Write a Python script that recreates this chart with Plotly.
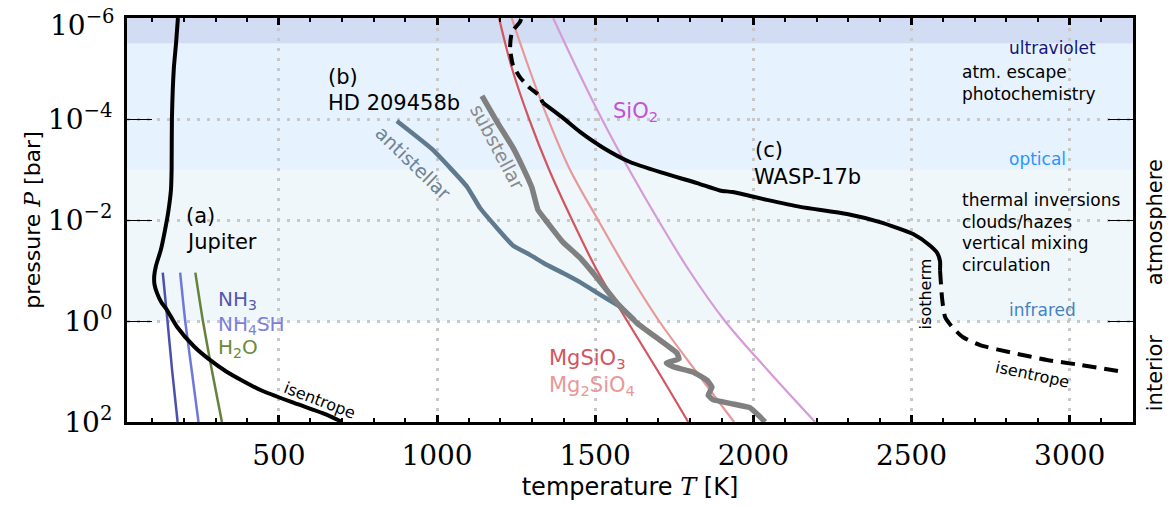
import numpy as np
import plotly.graph_objects as go

# ---------------------------------------------------------------------------
# Temperature–pressure profiles (T in K, P in bar)
# ---------------------------------------------------------------------------
jupiter_T = [181, 175, 168, 162, 161, 159, 150, 140, 127, 112, 106, 107, 115,
             128, 146, 178, 232, 282, 336, 440, 548, 652, 700]
jupiter_P = [1e-6, 3.2e-6, 1e-5, 1e-4, 1e-3, 2.5e-3, 7.2e-3, 0.016, 0.039,
             0.079, 0.13, 0.19, 0.28, 0.42, 0.6, 1.3, 3.2, 5.9, 10.2, 23,
             42, 72, 100]

# Jupiter cloud condensation curves
nh3_T = [133, 148, 163, 180]
nh4sh_T = [188, 204, 225, 246]
h2o_T = [236, 260, 289, 320]
jov_cond_P = [0.11, 1.0, 10.0, 100.0]

# HD 209458b (antistellar / substellar)
anti_T = [873, 987, 1095, 1136, 1190, 1240, 1294, 1348, 1398, 1452, 1515,
          1578, 1625]
anti_P = [1.1e-4, 4.1e-4, 2.2e-3, 5.8e-3, 0.0145, 0.032, 0.049, 0.078,
          0.112, 0.17, 0.3, 0.52, 0.95]

sub_T = [1142, 1190, 1240, 1272, 1300, 1319, 1348, 1398, 1452, 1506, 1569,
         1632, 1705, 1758, 1765, 1725, 1748, 1809, 1853, 1869, 1857, 1872,
         1936, 1989, 2021, 2037]
sub_P = [3.5e-5, 1.15e-4, 3.7e-4, 9.3e-4, 2.3e-3, 6.3e-3, 0.011, 0.0275,
         0.056, 0.14, 0.44, 1.1, 2.4, 4.3, 5.6, 6.8, 8.1, 10.2, 14.8, 20.4,
         29.5, 36, 44, 52, 79, 100]

# Silicate condensation curves, read once per decade of pressure
silicate_P = [1e-6, 1e-5, 1e-4, 1e-3, 1e-2, 0.1, 1.0, 10.0, 100.0]
mgsio3_T = [1196, 1237, 1291, 1354, 1427, 1506, 1601, 1699, 1794]
mg2sio4_T = [1236, 1291, 1351, 1420, 1509, 1601, 1702, 1819, 1939]
sio2_T = [1367, 1442, 1521, 1607, 1699, 1797, 1910, 2049, 2195]

# WASP-17b: extrapolated top, computed middle, isotherm + isentrope below
wasp_top_T = [1266, 1262, 1237, 1231, 1240, 1262, 1294, 1320, 1335]
wasp_top_P = [1.05e-6, 1.2e-6, 1.9e-6, 3.9e-6, 8.5e-6, 1.48e-5, 2.45e-5,
              3.3e-5, 4.8e-5]
wasp_mid_T = [1335, 1398, 1452, 1525, 1610, 1714, 1822, 1894, 1935, 2043,
              2148, 2296, 2400, 2505, 2558, 2581, 2590, 2590]
wasp_mid_P = [4.8e-5, 9.5e-5, 1.8e-4, 3.7e-4, 7.1e-4, 1.17e-3, 1.86e-3,
              2.6e-3, 2.8e-3, 4e-3, 5.5e-3, 7.6e-3, 0.011, 0.019, 0.032,
              0.045, 0.065, 0.098]
wasp_deep_T = [2590, 2597, 2606, 2628, 2663, 2717, 2821, 2928, 3033, 3169]
wasp_deep_P = [0.098, 0.38, 0.83, 1.3, 2.1, 3.0, 4.3, 5.9, 7.4, 10.2]

# Axis ticks (the top label is placed separately so it stays on the page)
x_ticks = [500, 1000, 1500, 2000, 2500, 3000]
y_ticks = [1e-6, 1e-4, 1e-2, 1e0, 1e2]
y_top_label = "10<sup>\u22126</sup>"
y_tick_text = ["", "10<sup>\u22124</sup>",
               "10<sup>\u22122</sup>", "10<sup>0</sup>", "10<sup>2</sup>"]

SANS = "DejaVu Sans"
SERIF = "DejaVu Serif"

fig = go.Figure()


def curve(T, P, color, width, dash="solid", shape="spline", smoothing=0.6):
    fig.add_trace(go.Scatter(
        x=T, y=P, mode="lines",
        line=dict(color=color, width=width, dash=dash, shape=shape,
                  smoothing=smoothing),
        hoverinfo="skip"))


# condensation curves
curve(mgsio3_T, silicate_P, "#d2555f", 2.2, smoothing=1.0)
curve(mg2sio4_T, silicate_P, "#e89898", 2.2, smoothing=1.0)
curve(sio2_T, silicate_P, "#d69ad8", 2.2, smoothing=1.0)
curve(nh3_T, jov_cond_P, "#4b50aa", 2.5)
curve(nh4sh_T, jov_cond_P, "#6e78dc", 2.5)
curve(h2o_T, jov_cond_P, "#64823c", 2.5)

# HD 209458b
curve(anti_T, anti_P, "#5f7a8e", 4.5, smoothing=0.4)
curve(sub_T, sub_P, "#808080", 5.5, smoothing=0.3)

# Jupiter
curve(jupiter_T, jupiter_P, "black", 4)

# WASP-17b
curve(wasp_top_T, wasp_top_P, "black", 4, dash="12px,7px")
curve(wasp_mid_T, wasp_mid_P, "black", 4)
curve(wasp_deep_T, wasp_deep_P, "black", 4, dash="14px,8px")

# spectral bands (paper coords: 1e2 bar -> 0, 1e-6 bar -> 1)
bands = [(0.25, "#eff7fa"), (0.625, "#e6f2fe"), (0.9375, "#d2dcf2")]
for y0, col in bands:
    fig.add_shape(type="rect", xref="paper", yref="paper", x0=0, x1=1,
                  y0=y0, y1=1, fillcolor=col, line_width=0, layer="below")


def note(text, T, logp, size=22, color="black", anchor="left", angle=0,
         family=SANS):
    fig.add_annotation(x=T, y=logp, xref="x", yref="y", text=text,
                       showarrow=False, xanchor=anchor, yanchor="middle",
                       textangle=angle,
                       font=dict(family=family, size=size, color=color))


# planet labels
note("(a)", 200, -2.08, size=21)
note("Jupiter", 200, -1.56, size=21)
note("(b)", 648, -4.83, size=21)
note("HD 209458b", 648, -4.32, size=21)
note("(c)", 1998, -3.39, size=21)
note("WASP-17b", 1995, -2.85, size=21)

# species labels
note("NH<sub>3</sub>", 300, -0.42, size=20, color="#5558b0")
note("NH<sub>4</sub>SH", 300, 0.07, size=20, color="#7a80e0")
note("H<sub>2</sub>O", 300, 0.54, size=20, color="#6b8a3a")
note("SiO<sub>2</sub>", 1550, -4.14, size=21, color="#c850d2")
note("MgSiO<sub>3</sub>", 1348, 0.75, size=21, color="#d2555f")
note("Mg<sub>2</sub>SiO<sub>4</sub>", 1348, 1.29, size=21, color="#e89898")

# profile annotations along the curves
note("antistellar", 925, -3.12, size=19, color="#6f8494", anchor="center", angle=44)
note("substellar", 1192, -3.45, size=19, color="#8a8a8a", anchor="center", angle=62)
note("isentrope", 630, 1.58, size=16, anchor="center", angle=21)
note("isentrope", 2881, 1.05, size=16, anchor="center", angle=12)
note("isotherm", 2543, -0.53, size=16, anchor="center", angle=-90)

# atmospheric regimes
note("ultraviolet", 2802, -5.41, size=17, color="#141480")
note("atm. escape", 2653, -4.93, size=17)
note("photochemistry", 2653, -4.50, size=17)
note("optical", 2802, -3.21, size=17, color="#2896ff")
note("thermal inversions", 2653, -2.40, size=17)
note("clouds/hazes", 2653, -1.96, size=17)
note("vertical mixing", 2653, -1.54, size=17)
note("circulation", 2653, -1.11, size=17)
note("infrared", 2802, -0.22, size=17, color="#4682be")

for text, yp in [("atmosphere", 0.495), ("interior", 0.121)]:
    fig.add_annotation(x=1.022, y=yp, xref="paper", yref="paper", text=text,
                       showarrow=False, textangle=-90, xanchor="center",
                       yanchor="middle", font=dict(family=SANS, size=21,
                                                   color="black"))

# top pressure label, nudged down so its exponent is not clipped
fig.add_annotation(x=0, y=1, xref="paper", yref="paper", text=y_top_label,
                   showarrow=False, xanchor="right", yanchor="middle",
                   xshift=-10, yshift=-5,
                   font=dict(family=SERIF, size=28, color="black"))

grid = dict(showgrid=True, gridcolor="#c8c8c8", gridwidth=2.5,
            griddash="3px,7px", zeroline=False, showline=True,
            linecolor="black", linewidth=3, mirror="allticks",
            ticks="inside", tickcolor="black", ticklabeloverflow="allow",
            automargin=False)

fig.update_xaxes(
    range=[20, 3200], tickvals=x_ticks, ticklen=7, tickwidth=2.5,
    minor=dict(dtick=100, ticks="inside", ticklen=4, tickwidth=1.5,
               tickcolor="black", showgrid=False),
    tickfont=dict(family=SERIF, size=28, color="black"),
    ticklabelstandoff=6,
    title=dict(text="temperature <span style='font-family:DejaVu Serif'><i>T</i></span> [K]",
               font=dict(family=SANS, size=24, color="black"), standoff=8),
    **grid)

fig.update_yaxes(
    type="log", range=[2, -6], tickvals=y_ticks, ticktext=y_tick_text,
    ticklen=25, tickwidth=1.2,
    tickfont=dict(family=SERIF, size=28, color="black"),
    ticklabelstandoff=6,
    title=dict(text="pressure <span style='font-family:DejaVu Serif'><i>P</i></span> [bar]",
               font=dict(family=SANS, size=22, color="black"), standoff=2),
    **grid)

fig.update_layout(width=1173, height=506,
                  margin=dict(l=127, r=40, t=18, b=84),
                  plot_bgcolor="white", paper_bgcolor="white",
                  showlegend=False)

fig.write_html("out.html")
